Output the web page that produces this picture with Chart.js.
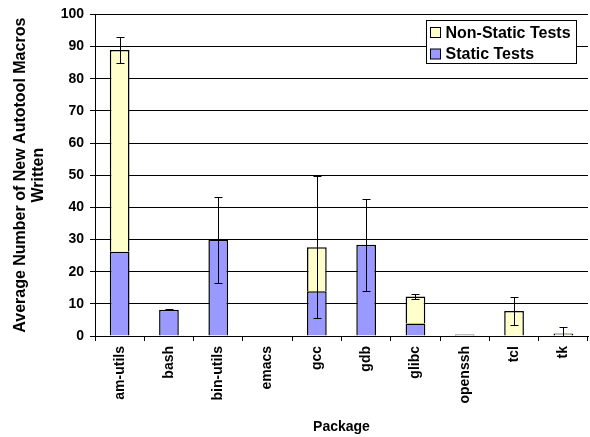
<!DOCTYPE html>
<html>
<head>
<meta charset="utf-8">
<script src="https://cdn.jsdelivr.net/npm/chart.js@4.4.1/dist/chart.umd.min.js"></script>
<style>
  html, body { margin: 0; padding: 0; background: #fff; }
  #chart { display: block; }
</style>
</head>
<body>
<canvas id="chart" width="590" height="437"></canvas>
<script>
const packages = ['am-utils', 'bash', 'bin-utils', 'emacs', 'gcc', 'gdb', 'glibc', 'openssh', 'tcl', 'tk']
const staticTests = [26.2, 8.2, 29.9, 0, 13.9, 28.4, 3.9, 0.5, 0, 0]
const nonStaticTests = [62.7, 0, 0, 0, 13.7, 0, 8.4, 0, 7.8, 0.8]
// +/- spread around the stacked total
const spread = [4.0, 0.1, 13.3, 0, 22.0, 14.3, 0.7, 0, 4.4, 2.0]
const yTicks = [0, 10, 20, 30, 40, 50, 60, 70, 80, 90, 100]

const family = 'Liberation Sans, Arial, sans-serif'
const tickFont = { family: family, weight: 'bold', size: 14 }
const xFont = { family: family, weight: 'bold', size: 14 }
const yTitleFont = { family: family, weight: 'bold', size: 16, lineHeight: 1.15 }

const errorBars = {
    id: 'errorBars',
    afterDatasetsDraw(chart) {
        const ctx = chart.ctx, x = chart.scales.x, y = chart.scales.y
        ctx.save()
        ctx.strokeStyle = '#000'
        ctx.lineWidth = 1
        packages.forEach((p, i) => {
            if (!spread[i]) return
            const total = staticTests[i] + nonStaticTests[i]
            const cx = Math.round(x.getPixelForValue(i)) + 0.5
            const top = Math.round(y.getPixelForValue(total + spread[i])) + 0.5
            const bot = Math.round(y.getPixelForValue(Math.max(0, total - spread[i]))) + 0.5
            ctx.beginPath()
            ctx.moveTo(cx, top); ctx.lineTo(cx, bot)
            ctx.moveTo(cx - 4, top); ctx.lineTo(cx + 4, top)
            if (total - spread[i] > 0) { ctx.moveTo(cx - 4, bot); ctx.lineTo(cx + 4, bot) }
            ctx.stroke()
        })
        ctx.restore()
    }
}

// legend box drawn inside the plot, top right
const boxLegend = {
    id: 'boxLegend',
    afterDraw(chart) {
        const ctx = chart.ctx
        const sets = chart.data.datasets.slice().reverse()
        const bx = 426.5, by = 20.5, bw = 150, bh = 43
        ctx.save()
        ctx.fillStyle = '#fff'
        ctx.fillRect(bx, by, bw, bh)
        ctx.strokeStyle = '#000'
        ctx.lineWidth = 1
        ctx.strokeRect(bx, by, bw, bh)
        ctx.font = 'bold 16px ' + family
        ctx.textBaseline = 'middle'
        sets.forEach((ds, i) => {
            const ry = by + 12 + i * 21.5
            ctx.fillStyle = ds.backgroundColor
            ctx.fillRect(bx + 4, ry - 5, 10, 10)
            ctx.strokeRect(bx + 4, ry - 5, 10, 10)
            ctx.fillStyle = '#000'
            ctx.fillText(ds.label, bx + 19, ry + 1)
        })
        ctx.restore()
    }
}

const data = {
    labels: packages,
    datasets: [{
        label: 'Static Tests',
        data: staticTests,
        backgroundColor: '#9999FF',
        borderColor: '#000',
        borderWidth: 1.5,
        barPercentage: 0.4,
        categoryPercentage: 1
    }, {
        label: 'Non-Static Tests',
        data: nonStaticTests,
        backgroundColor: '#FFFFCC',
        borderColor: '#000',
        borderWidth: 1.5,
        barPercentage: 0.4,
        categoryPercentage: 1
    }]
}

const config = {
    type: 'bar',
    data: data,
    options: {
        responsive: false,
        animation: false,
        layout: { padding: { top: 10, right: 2, left: 0, bottom: 0 } },
        plugins: {
            legend: { display: false },
            tooltip: { enabled: false }
        },
        scales: {
            x: {
                stacked: true,
                afterFit: s => { s.height = 101 },
                grid: { offset: true, drawOnChartArea: false, color: '#000', tickLength: 5 },
                border: { color: '#000' },
                ticks: { color: '#000', font: xFont, minRotation: 90, maxRotation: 90, padding: 5 },
                title: { display: true, text: 'Package', color: '#000', font: xFont, padding: { top: 4, bottom: 1 } }
            },
            y: {
                stacked: true,
                min: 0,
                max: 100,
                afterFit: s => { s.width = 95 },
                afterBuildTicks: s => { s.ticks = yTicks.map(v => ({ value: v })) },
                grid: { color: '#000', tickLength: 5 },
                border: { color: '#000' },
                ticks: { color: '#000', font: tickFont, padding: 6 },
                title: {
                    display: true,
                    text: ['Average Number of New Autotool Macros', 'Written'],
                    color: '#000',
                    font: yTitleFont,
                    padding: { top: 11, bottom: 0 }
                }
            }
        }
    },
    plugins: [errorBars, boxLegend]
}

new Chart(document.getElementById('chart').getContext('2d'), config)
</script>
</body>
</html>
